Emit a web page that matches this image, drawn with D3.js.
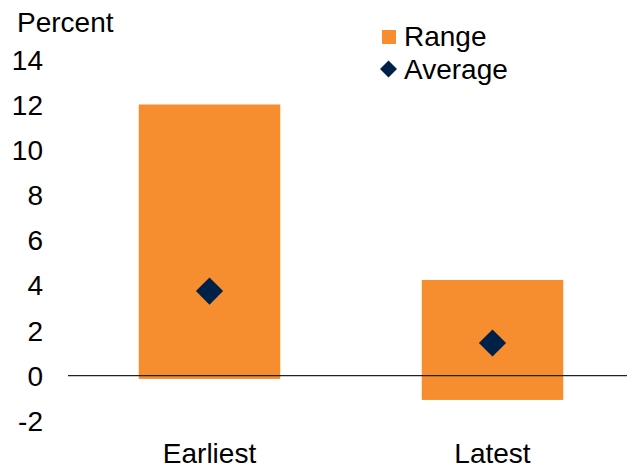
<!DOCTYPE html>
<html>
<head>
<meta charset="utf-8">
<script src="https://cdn.jsdelivr.net/npm/d3@7"></script>
<style>
  body { margin: 0; background: #fff; }
  text { font-family: "Liberation Sans", Arial, sans-serif; fill: #000; }
</style>
</head>
<body>
<svg width="627" height="468"></svg>
<script>
// data
const categories = ["Earliest", "Latest"];
const rangeLow = [-0.15, -1.08];
const rangeHigh = [12.0, 4.23];
const average = [3.74, 1.44];
const yTicks = [-2, 0, 2, 4, 6, 8, 10, 12, 14];

const orange = "#F68D2E", navy = "#002147";
const svg = d3.select("svg");
const fs = 28;

const x = d3.scaleBand().domain(categories).range([68, 634]).paddingInner(0.5).paddingOuter(0.25);
const y = d3.scaleLinear().domain([-2, 14]).range([420.7, 59.3]);

// y axis labels
const yAxis = svg.append("g").attr("transform", "translate(51,0)")
  .call(d3.axisLeft(y).tickValues(yTicks).tickFormat(d => String(d)).tickSize(0).tickPadding(8));
yAxis.select(".domain").remove();
yAxis.selectAll("text").style("font-size", fs + "px").attr("dy", "0.35em")
  .style("font-family", "'Liberation Sans', Arial, sans-serif").attr("fill", "#000");

svg.append("text").attr("x", 17).attr("y", 32).style("font-size", fs + "px").text("Percent");

// bars
svg.selectAll("rect.bar").data(categories).enter().append("rect")
  .attr("class", "bar")
  .attr("x", d => x(d))
  .attr("width", x.bandwidth())
  .attr("y", (d, i) => y(rangeHigh[i]))
  .attr("height", (d, i) => y(rangeLow[i]) - y(rangeHigh[i]))
  .attr("fill", orange);

// zero line
svg.append("line").attr("x1", 68).attr("x2", 627).attr("y1", y(0)).attr("y2", y(0))
  .attr("stroke", "#222").attr("stroke-width", 1.3);

// averages
const diamond = d3.symbol().type(d3.symbolSquare).size(370);
svg.selectAll("path.avg").data(categories).enter().append("path")
  .attr("class", "avg")
  .attr("d", diamond)
  .attr("transform", (d, i) => `translate(${x(d) + x.bandwidth() / 2},${y(average[i])}) rotate(45)`)
  .attr("fill", navy);

// x labels
const xAxis = svg.append("g").attr("transform", "translate(0,463)");
xAxis.selectAll("text").data(categories).enter().append("text")
  .attr("x", d => x(d) + x.bandwidth() / 2)
  .attr("text-anchor", "middle")
  .style("font-size", fs + "px")
  .text(d => d);

// legend
const lg = svg.append("g");
lg.append("rect").attr("x", 382).attr("y", 30).attr("width", 14).attr("height", 14).attr("fill", orange);
lg.append("path").attr("d", d3.symbol().type(d3.symbolSquare).size(144))
  .attr("transform", "translate(388.5,69) rotate(45)").attr("fill", navy);
lg.append("text").attr("x", 404).attr("y", 46).style("font-size", fs + "px").text("Range");
lg.append("text").attr("x", 404).attr("y", 79).style("font-size", fs + "px").text("Average");
</script>
</body>
</html>
